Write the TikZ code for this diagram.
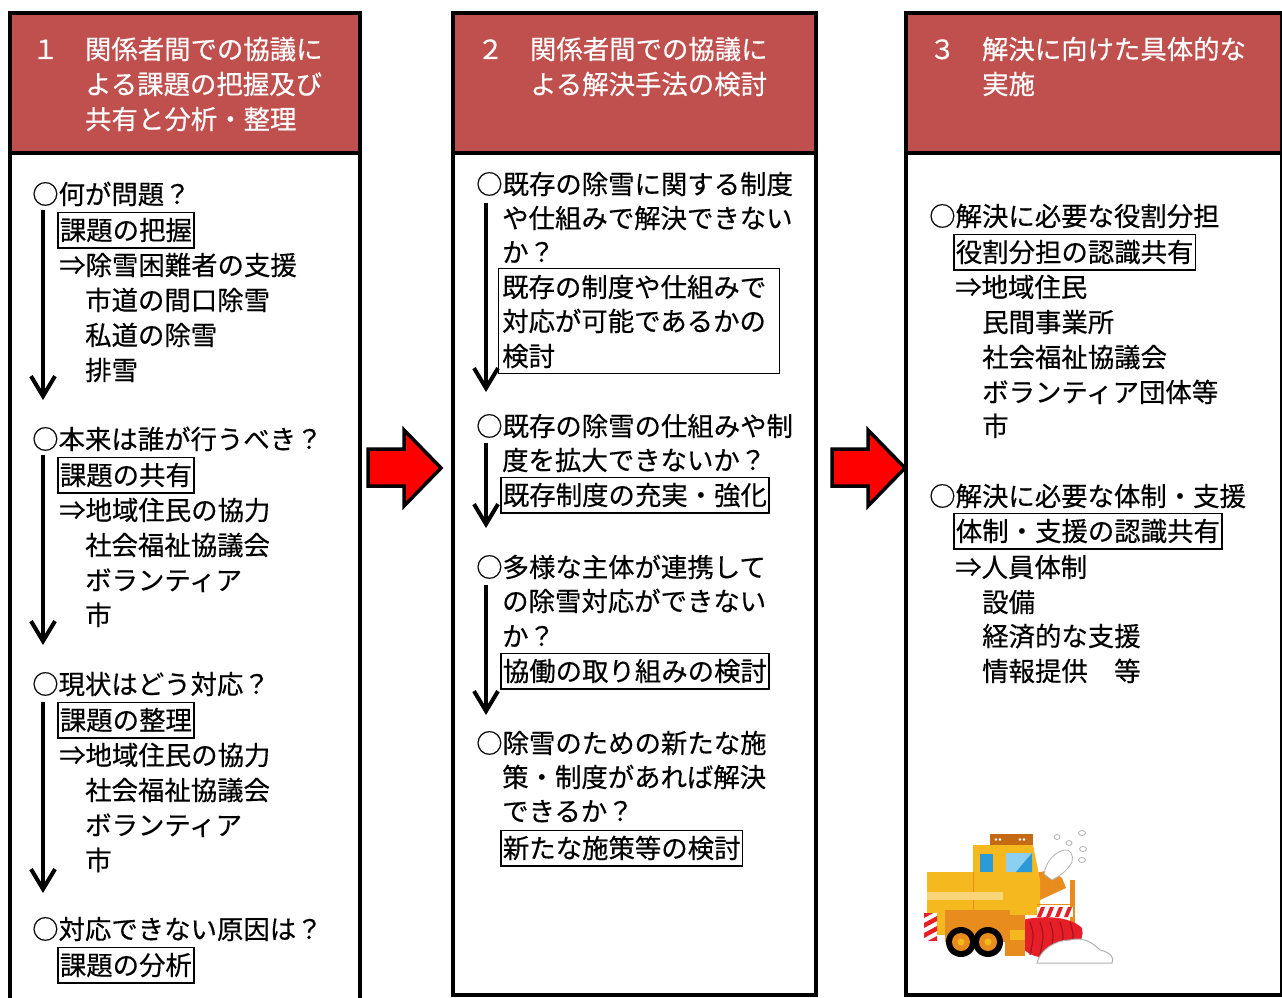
\documentclass[tikz,border=0pt]{standalone}
\usepackage{fontspec}
\setmainfont{Noto Sans CJK JP}
\newfontfamily\jpmed{Noto Sans CJK JP}[FakeBold=0.4]
\usetikzlibrary{arrows.meta}
\definecolor{hdr}{RGB}{192,80,77}
\definecolor{plowY}{RGB}{246,184,31}
\definecolor{plowO}{RGB}{232,140,30}
\definecolor{plowD}{RGB}{196,106,20}
\definecolor{plowR}{RGB}{230,30,40}
\definecolor{plowB}{RGB}{43,155,216}
\definecolor{plowLB}{RGB}{140,207,240}
\begin{document}
\begin{tikzpicture}[x=1pt,y=-1pt,
  jp/.style={font=\jpmed\fontsize{26.4pt}{35pt}\selectfont},
  ln/.style={jp,anchor=base west,inner sep=0pt},
  hd/.style={ln,text=white},
  tag/.style={ln,draw,line width=1.8pt,inner xsep=2pt,inner ysep=4.5pt,text height=23pt,text depth=3.5pt},
  col/.style={draw=black,line width=4pt,line join=miter},
  flow/.style={line width=4pt,-{Straight Barb[length=20pt,width=24pt]}},
  bigarrow/.style={fill=red,draw=black,line width=3.5pt,line join=miter}]
\useasboundingbox (0,0) rectangle (1282,998);

% --- three stage columns ---
\fill[white] (0,0) rectangle (1282,998);
\fill[hdr] (10,13) rectangle (360,153);
\fill[hdr] (453,13) rectangle (816,153);
\fill[hdr] (906,13) rectangle (1282,153);
\draw[col] (10,1010) -- (10,13) -- (360,13) -- (360,1010);
\draw[col] (10,153) -- (360,153);
\draw[col] (453,13) rectangle (816,995);
\draw[col] (453,153) -- (816,153);
\draw[col] (906,13) rectangle (1282,995);
\draw[col] (906,153) -- (1282,153);

% --- headers ---
\node[hd] (h1a) at (32,59) {１　関係者間での協議に};
\node[hd] (h1b) at (85,94) {よる課題の把握及び};
\node[hd] (h1c) at (85,129) {共有と分析・整理};
\node[hd] (h2a) at (477,59) {２　関係者間での協議に};
\node[hd] (h2b) at (530,94) {よる解決手法の検討};
\node[hd] (h3a) at (929,59) {３　解決に向けた具体的な};
\node[hd] (h3b) at (982,94) {実施};

% --- column 1 ---
\node[ln] (a1) at (32,204) {○何が問題？};
\node[tag] (a1t) at (57,240) {課題の把握};
\node[ln] (a1a) at (59,275) {⇒除雪困難者の支援};
\node[ln] (a1b) at (85,310) {市道の間口除雪};
\node[ln] (a1c) at (85,345) {私道の除雪};
\node[ln] (a1d) at (85,380) {排雪};
\node[ln] (a2) at (32,449) {○本来は誰が行うべき？};
\node[tag] (a2t) at (57,485) {課題の共有};
\node[ln] (a2a) at (59,520) {⇒地域住民の協力};
\node[ln] (a2b) at (85,555) {社会福祉協議会};
\node[ln] (a2c) at (85,590) {ボランティア};
\node[ln] (a2d) at (85,625) {市};
\node[ln] (a3) at (32,694) {○現状はどう対応？};
\node[tag] (a3t) at (57,730) {課題の整理};
\node[ln] (a3a) at (59,765) {⇒地域住民の協力};
\node[ln] (a3b) at (85,800) {社会福祉協議会};
\node[ln] (a3c) at (85,835) {ボランティア};
\node[ln] (a3d) at (85,870) {市};
\node[ln] (a4) at (32,939) {○対応できない原因は？};
\node[tag] (a4t) at (57,975) {課題の分析};

\coordinate (a1s) at (43,210);  \coordinate (a1e) at (43,400);
\coordinate (a2s) at (43,455);  \coordinate (a2e) at (43,645);
\coordinate (a3s) at (43,702);  \coordinate (a3e) at (43,893);
\draw[flow] (a1s) -- (a1e);
\draw[flow] (a2s) -- (a2e);
\draw[flow] (a3s) -- (a3e);

% --- column 2 ---
\node[ln] (b1) at (476,194) {○既存の除雪に関する制度};
\node[ln] (b1a) at (502,228) {や仕組みで解決できない};
\node[ln] (b1b) at (502,262) {か？};
\draw[line width=1pt] (498,268) rectangle (779,373);
\node[ln] (b1c) at (502,297) {既存の制度や仕組みで};
\node[ln] (b1d) at (502,331) {対応が可能であるかの};
\node[ln] (b1e) at (502,366) {検討};
\node[ln] (b2) at (476,436) {○既存の除雪の仕組みや制};
\node[ln] (b2a) at (502,470) {度を拡大できないか？};
\node[tag] (b2t) at (500,505) {既存制度の充実・強化};
\node[ln] (b3) at (476,577) {○多様な主体が連携して};
\node[ln] (b3a) at (502,611) {の除雪対応ができない};
\node[ln] (b3b) at (502,646) {か？};
\node[tag] (b3t) at (500,681) {協働の取り組みの検討};
\node[ln] (b4) at (476,753) {○除雪のための新たな施};
\node[ln] (b4a) at (502,787) {策・制度があれば解決};
\node[ln] (b4b) at (502,821) {できるか？};
\node[tag] (b4t) at (500,858) {新たな施策等の検討};

\coordinate (b1s) at (486,203);  \coordinate (b1e) at (486,392);
\coordinate (b2s) at (486,443);  \coordinate (b2e) at (486,528);
\coordinate (b3s) at (486,585);  \coordinate (b3e) at (486,715);
\draw[flow] (b1s) -- (b1e);
\draw[flow] (b2s) -- (b2e);
\draw[flow] (b3s) -- (b3e);

% --- column 3 ---
\node[ln] (c1) at (929,226) {○解決に必要な役割分担};
\node[tag] (c1t) at (953,262) {役割分担の認識共有};
\node[ln] (c1a) at (955,297) {⇒地域住民};
\node[ln] (c1b) at (982,332) {民間事業所};
\node[ln] (c1c) at (982,367) {社会福祉協議会};
\node[ln] (c1d) at (982,402) {ボランティア団体等};
\node[ln] (c1e) at (982,436) {市};
\node[ln] (c2) at (929,506) {○解決に必要な体制・支援};
\node[tag] (c2t) at (953,541) {体制・支援の認識共有};
\node[ln] (c2a) at (955,577) {⇒人員体制};
\node[ln] (c2b) at (982,612) {設備};
\node[ln] (c2c) at (982,646) {経済的な支援};
\node[ln] (c2d) at (982,681) {情報提供　等};

% --- red block arrows between stages ---
\draw[bigarrow] (368,449) -- (404,449) -- (404,430) -- (441,468) -- (404,506) -- (404,486) -- (368,486) -- cycle;
\draw[bigarrow] (832,449) -- (868,449) -- (868,430) -- (905,468) -- (868,506) -- (868,486) -- (832,486) -- cycle;

% --- snow blower illustration ---
\begin{scope}
  % snow thrown from the chute
  \foreach \px/\py/\rx/\ry in {1057/837/3/2.5,1069/843/3/2.5,1082/833/3.5/2.5,1083/849/3.5/2.5,1082/860/3.5/2.5}
    \draw[gray!60,line width=0.8pt,fill=white] (\px,\py) ellipse ({\rx} and {\ry});
  % chute
  \fill[plowO] (1025,875) -- (1050,870) -- (1062,878) -- (1066,888) -- (1040,900) -- (1025,905) -- cycle;
  \draw[gray!60,line width=0.8pt,fill=white] (1044,874) .. controls (1046,860) and (1056,852) .. (1064,850)
    .. controls (1070,848) and (1074,856) .. (1072,862) .. controls (1068,870) and (1060,876) .. (1052,880) -- cycle;
  % rear body and cab
  \fill[plowY] (927,872) rectangle (1008,935);
  \fill[plowY] (973,845) -- (1033,845) -- (1040,880) -- (1040,915) -- (973,915) -- cycle;
  \draw[plowO,line width=0.8pt] (973,872) -- (973,915);
  \fill[plowD] (990,834) rectangle (1033,845);
  \foreach \lx in {996,1000,1020,1024} \fill[white] (\lx,839.5) circle (1.3);
  \fill[plowY!60!white] (927,892) rectangle (1003,900);
  \fill[plowB] (980,854) rectangle (993,872);
  \fill[plowLB] (1006,853) rectangle (1032,872);
  \fill[plowB] (1032,853) -- (1032,872) -- (1016,872) -- cycle;
  % lower body
  \fill[plowO] (945,910) rectangle (1010,942);
  % rear hazard stripes
  \fill[white] (924,913) rectangle (937,940);
  \begin{scope}
    \clip (924,913) rectangle (937,940);
    \foreach \k in {0,10,20,30} \fill[plowR] (924,913+\k) -- (937,906+\k) -- (937,911+\k) -- (924,918+\k) -- cycle;
  \end{scope}
  % front frame with hazard band
  \fill[plowO] (1070,880) rectangle (1075,935);
  \fill[white] (1037,907) rectangle (1073,917);
  \begin{scope}
    \clip (1037,907) rectangle (1073,917);
    \foreach \k in {0,9,18,27,36} \fill[plowR] (1037+\k,917) -- (1041+\k,907) -- (1045+\k,907) -- (1041+\k,917) -- cycle;
  \end{scope}
  \draw[plowO,line width=0.8pt] (1037,904) -- (1073,904);
  % rotary auger
  \fill[plowR] (1015,922) .. controls (1040,914) and (1070,916) .. (1082,928)
    .. controls (1086,942) and (1070,958) .. (1050,958) .. controls (1030,958) and (1015,950) .. cycle;
  \foreach \ax in {1030,1040,1050,1060,1070}
    \draw[plowR!70!black,line width=1.2pt] (\ax,922) .. controls (\ax+4,935) .. (\ax,955);
  \fill[plowO] (1005,915) rectangle (1025,956);
  \fill[plowY] (1010,930) rectangle (1025,940);
  % wheels
  \foreach \wx in {961,988} {
    \fill[black] (\wx,942) circle (15);
    \fill[plowO] (\wx,942) circle (9);
    \fill[plowY] (\wx,942) circle (3.5);
  }
  % snow heap
  \draw[gray!60,line width=1pt,fill=white] (1037,963) .. controls (1040,950) and (1055,940) .. (1070,940)
    .. controls (1085,936) and (1095,945) .. (1100,950) .. controls (1110,952) and (1115,958) .. (1112,963) -- cycle;
\end{scope}
\end{tikzpicture}
\end{document}
